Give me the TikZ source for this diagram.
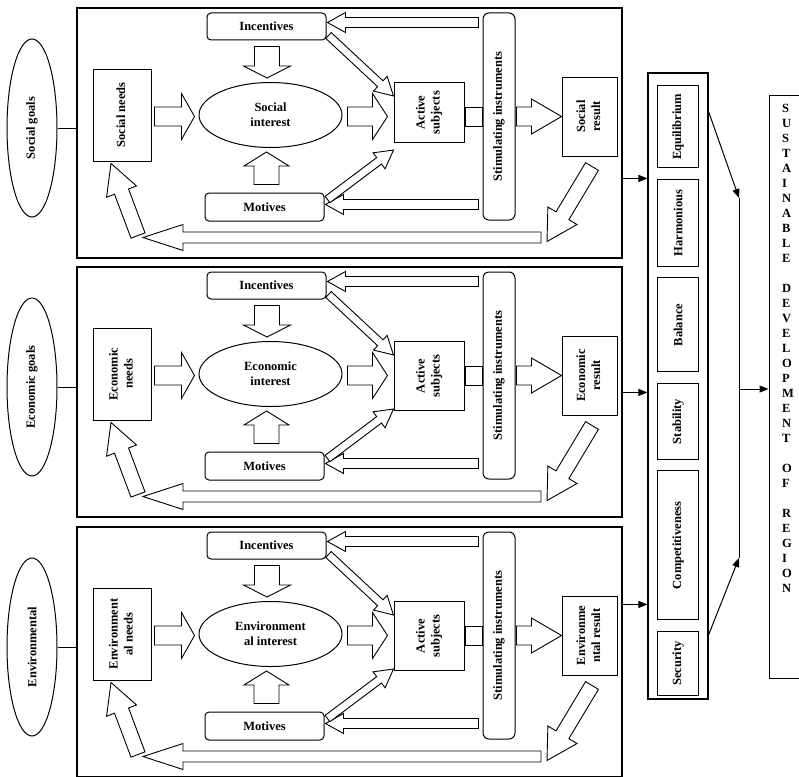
\documentclass[tikz,border=0pt]{standalone}
\usepackage{fontspec}
\setmainfont{Liberation Serif}
\usepackage{graphicx}
\usetikzlibrary{positioning,shapes.geometric,arrows.meta,calc}

\newcommand{\vtext}[1]{\rotatebox{90}{\begin{tabular}{@{}c@{}}#1\end{tabular}}}
% hollow block arrow: from, to, shaft, head, head length
\newcommand{\blockarrow}[5]{%
  \draw[hollow] let \p1=#1, \p2=#2,
    \n1={atan2(\y2-\y1,\x2-\x1)}, \n2={veclen(\x2-\x1,\y2-\y1)} in
    ($(\p1)+(\n1+90:0.5*#3pt)$) -- ($(\p1)+(\n1:\n2-#5pt)+(\n1+90:0.5*#3pt)$)
    -- ($(\p1)+(\n1:\n2-#5pt)+(\n1+90:0.5*#4pt)$) -- (\p2)
    -- ($(\p1)+(\n1:\n2-#5pt)+(\n1-90:0.5*#4pt)$)
    -- ($(\p1)+(\n1:\n2-#5pt)+(\n1-90:0.5*#3pt)$)
    -- ($(\p1)+(\n1-90:0.5*#3pt)$) -- cycle;}

\begin{document}
\begin{tikzpicture}[x=1pt, y=-1pt, node distance=10pt,
font=\fontsize{12.5}{15}\selectfont\bfseries,
panel/.style ={rectangle, draw=black, line width=1.1pt, minimum width=545pt, minimum height=250pt, inner sep=0pt},
goal/.style ={ellipse, draw=black, line width=1pt, minimum width=50pt, minimum height=178pt, inner sep=0pt},
plainbox/.style ={rectangle, draw=black, line width=1pt, inner sep=0pt, text centered, fill=white},
activity/.style ={plainbox, rounded corners=4pt},
interest/.style ={ellipse, draw=black, line width=1pt, minimum width=143pt, minimum height=65pt, inner sep=0pt, align=center},
indicator/.style ={plainbox, minimum width=41pt},
hollow/.style ={draw=black, line width=0.9pt, fill=white, line join=miter},
connection/.style ={-,line width=1pt},
output/.style ={-{Triangle[length=9pt,width=7pt]},line width=1pt},
]
\useasboundingbox (0,0) rectangle (799,776);

% indicators of the region
\node (IND) [rectangle, draw=black, line width=1.1pt, minimum width=60pt, minimum height=626pt] at (678,386) {};
\node (EQUI) [indicator, minimum height=82pt, below=13pt of IND.north] {\rotatebox{90}{Equilibrium}};
\node (HARM) [indicator, minimum height=87pt, below=10.5pt of EQUI] {\rotatebox{90}{Harmonious}};
\node (BAL) [indicator, minimum height=94pt, below=10.5pt of HARM] {\rotatebox{90}{Balance}};
\node (STAB) [indicator, minimum height=76pt, below=10.5pt of BAL] {\rotatebox{90}{Stability}};
\node (COMP) [indicator, minimum height=149pt, below=10.5pt of STAB] {\rotatebox{90}{Competitiveness}};
\node (SECU) [indicator, minimum height=64pt, below=10.5pt of COMP] {\rotatebox{90}{Security}};

\node (SUST) [plainbox, fill=none, minimum width=61pt, minimum height=583pt] at (799.5,386.5) {};
\node (SUSTXT) [anchor=north west, align=left, inner sep=0pt] at (782,104) {S\\U\\S\\T\\A\\I\\N\\A\\B\\L\\E\\[15pt]D\\E\\V\\E\\L\\O\\P\\M\\E\\N\\T\\[15pt]O\\F\\[15pt]R\\E\\G\\I\\O\\N};

\coordinate (JTOP) at (739,198);
\coordinate (JBOT) at (739,558);
\coordinate (JMID) at (739,389);
\coordinate (EQOUT) at ($(EQUI.north -| IND.east)+(0,26)$);
\coordinate (SECOUT) at ($(SECU.north -| IND.east)+(0,4)$);
\draw[output] (EQOUT) -- (JTOP);
\draw[output] (SECOUT) -- (JBOT);
\draw[connection] (JTOP) -- (JBOT);
\draw[output] (JMID) -- (JMID -| SUST.west);

% one panel per kind of goal
\foreach \i/\dy/\ah/\ay/\goal/\need/\inter/\res in {
 1/0/60/179/{Social goals}/{Social needs}/{Social\\interest}/{Social\\result},
 2/259/69/134/{Economic goals}/{Economic\\needs}/{Economic\\interest}/{Economic\\result},
 3/519/69/86/{Environmental}/{Environment\\al needs}/{Environment\\al interest}/{Environme\\ntal result}}
{
\node (PANEL\i) [panel] at (349.5,\dy+133) {};
\node (GOAL\i) [goal] at (32,\dy+128) {\rotatebox{90}{\goal}};
\node (NEED\i) [plainbox, minimum width=58pt, minimum height=92pt] at (122,\dy+115) {\vtext{\need}};
\node (INTER\i) [interest, right of=NEED\i, node distance=148.5pt] {\inter};
\node (INCEN\i) [activity, minimum width=119pt, minimum height=27pt] at (266.5,\dy+26.5) {Incentives};
\node (MOTIV\i) [activity, minimum width=119pt, minimum height=28pt] at (264.5,\dy+207) {Motives};
\node (ACTIV\i) [plainbox, minimum width=70pt, minimum height=\ah pt, anchor=north] at (429,\dy+82) {\vtext{Active\\subjects}};
\node (STIM\i) [activity, rounded corners=6pt, minimum width=32pt, minimum height=207pt] at (499,\dy+116.5) {\rotatebox{90}{Stimulating instruments}};
\node (RESULT\i) [plainbox, minimum width=55pt, minimum height=79pt, right of=STIM\i, node distance=90.5pt] {\vtext{\res}};

\draw[connection] (GOAL\i.east) -- (GOAL\i.east -| PANEL\i.west);
\coordinate (OUT\i) at ($(PANEL\i.north east)+(0,\ay-8)$);
\draw[output] (OUT\i) -- (OUT\i -| IND.west);

\blockarrow{($(NEED\i.east)+(3,1.5)$)}{($(NEED\i.east -| INTER\i.west)+(-4,1.5)$)}{19}{46}{13}
\blockarrow{($(INTER\i.east)+(5,1.5)$)}{($(INTER\i.east -| ACTIV\i.west)+(-6,1.5)$)}{19}{46}{15}
\blockarrow{($(INCEN\i.south)+(0.5,6)$)}{($(INCEN\i.south |- INTER\i.north)+(0.5,-4)$)}{25}{47}{12}
\blockarrow{($(MOTIV\i.north)+(2,-8)$)}{($(MOTIV\i.north |- INTER\i.south)+(2,4)$)}{25}{45}{14}
\blockarrow{($(STIM\i.west |- INCEN\i.north)+(-4,10)$)}{($(INCEN\i.north east)+(1,10)$)}{10}{20}{18}
\blockarrow{($(STIM\i.west |- MOTIV\i.north)+(-4,12)$)}{($(MOTIV\i.north east)+(1,12)$)}{10}{20}{18}
\blockarrow{($(INCEN\i.south east)+(2,-5)$)}{($(ACTIV\i.north west)+(0,14)$)}{8}{20}{18}
\blockarrow{($(MOTIV\i.north east)+(3,7)$)}{($(ACTIV\i.north west)+(0,68)$)}{8}{20}{18}
\draw[hollow] ($(ACTIV\i.east |- STIM\i.west)+(1,-9.5)$) rectangle ($(STIM\i.west)+(0,9.5)$);
\blockarrow{($(STIM\i.east)+(1,0)$)}{(RESULT\i.west)}{19}{35}{30}
\blockarrow{($(RESULT\i.south)+(2.5,10)$)}{($(RESULT\i.south)+(-42.5,85)$)}{15}{34}{30}
\blockarrow{($(RESULT\i.south)+(-48.5,81)$)}{($(NEED\i.south)+(21,76)$)}{11}{26}{40}
\blockarrow{($(NEED\i.south)+(16,74)$)}{($(NEED\i.south)+(-11,2)$)}{15}{32}{30}
}

\end{tikzpicture}
\end{document}
